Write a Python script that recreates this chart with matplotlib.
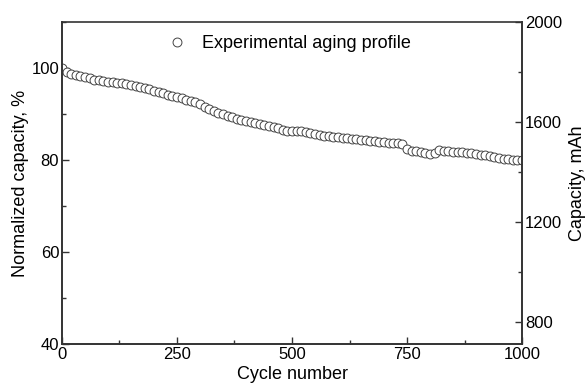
"""Normalized capacity fade of the experimental aging profile."""

import matplotlib

matplotlib.use("Agg")
import matplotlib.pyplot as plt
from matplotlib.ticker import MultipleLocator

# cycle number, every 10 cycles
cycles = list(range(0, 1001, 10))

# normalized capacity, %
capacity_pct = [
    100.0, 99.2, 98.8, 98.4, 98.2, 98.0, 97.8, 97.5, 97.3, 97.2,
    97.0, 96.9, 96.8, 96.7, 96.5, 96.3, 96.1, 95.9, 95.6, 95.4,
    95.1, 94.8, 94.5, 94.2, 93.9, 93.6, 93.4, 93.1, 92.9, 92.6,
    92.2, 91.5, 91.0, 90.6, 90.2, 89.9, 89.6, 89.3, 89.0, 88.7,
    88.5, 88.3, 88.1, 87.9, 87.7, 87.5, 87.2, 86.9, 86.6, 86.4,
    86.4, 86.3, 86.3, 86.0, 85.8, 85.6, 85.5, 85.3, 85.2, 85.1,
    84.9, 84.8, 84.7, 84.6, 84.5, 84.4, 84.3, 84.2, 84.1, 84.0,
    83.9, 83.8, 83.7, 83.6, 83.5, 82.4, 82.0, 81.9, 81.7, 81.6,
    81.4, 81.5, 82.2, 82.0, 81.9, 81.8, 81.7, 81.7, 81.6, 81.5,
    81.3, 81.1, 81.0, 80.8, 80.6, 80.5, 80.3, 80.2, 80.1, 80.0,
    79.9,
]

x_ticks = [0, 250, 500, 750, 1000]
left_ticks = [40, 60, 80, 100]
right_ticks = [800, 1200, 1600, 2000]

plt.rcParams["font.family"] = ["Liberation Sans", "DejaVu Sans"]
plt.rcParams["font.size"] = 12

fig = plt.figure(figsize=(5.88, 3.86), dpi=100)
ax = fig.add_axes([0.1054, 0.1088, 0.7824, 0.8342])

ax.plot(
    cycles,
    capacity_pct,
    linestyle="none",
    marker="o",
    markersize=6.4,
    markerfacecolor="white",
    markeredgecolor="#444444",
    markeredgewidth=0.7,
    label="Experimental aging profile",
)

ax.set_xlim(0, 1000)
ax.set_ylim(40, 110)
ax.set_xticks(x_ticks)
ax.set_yticks(left_ticks)
ax.xaxis.set_minor_locator(MultipleLocator(125))
ax.yaxis.set_minor_locator(MultipleLocator(10))
ax.set_xlabel("Cycle number", fontsize=13, labelpad=3)
ax.set_ylabel("Normalized capacity, %", fontsize=13, labelpad=2)

ax2 = ax.twinx()
ax2.set_ylim(712, 2000)
ax2.set_yticks(right_ticks)
ax2.yaxis.set_minor_locator(MultipleLocator(200))
ax2.set_ylabel("Capacity, mAh", fontsize=13, labelpad=5)

for a in (ax, ax2):
    for spine in a.spines.values():
        spine.set_linewidth(1.2)
        spine.set_color("#333333")
    a.tick_params(which="major", direction="in", length=5, width=1.0, color="#333333", pad=2)
    a.tick_params(which="minor", direction="in", length=3, width=1.0, color="#333333")
ax2.spines["top"].set_visible(False)
ax.tick_params(axis="x", which="both", top=False)

ax.legend(
    loc="center left",
    bbox_to_anchor=(0.2298, 0.9317),
    frameon=False,
    borderpad=0,
    borderaxespad=0,
    handlelength=1.0,
    handletextpad=0.9,
    fontsize=13,
)

fig.savefig("out.png", dpi=100)
